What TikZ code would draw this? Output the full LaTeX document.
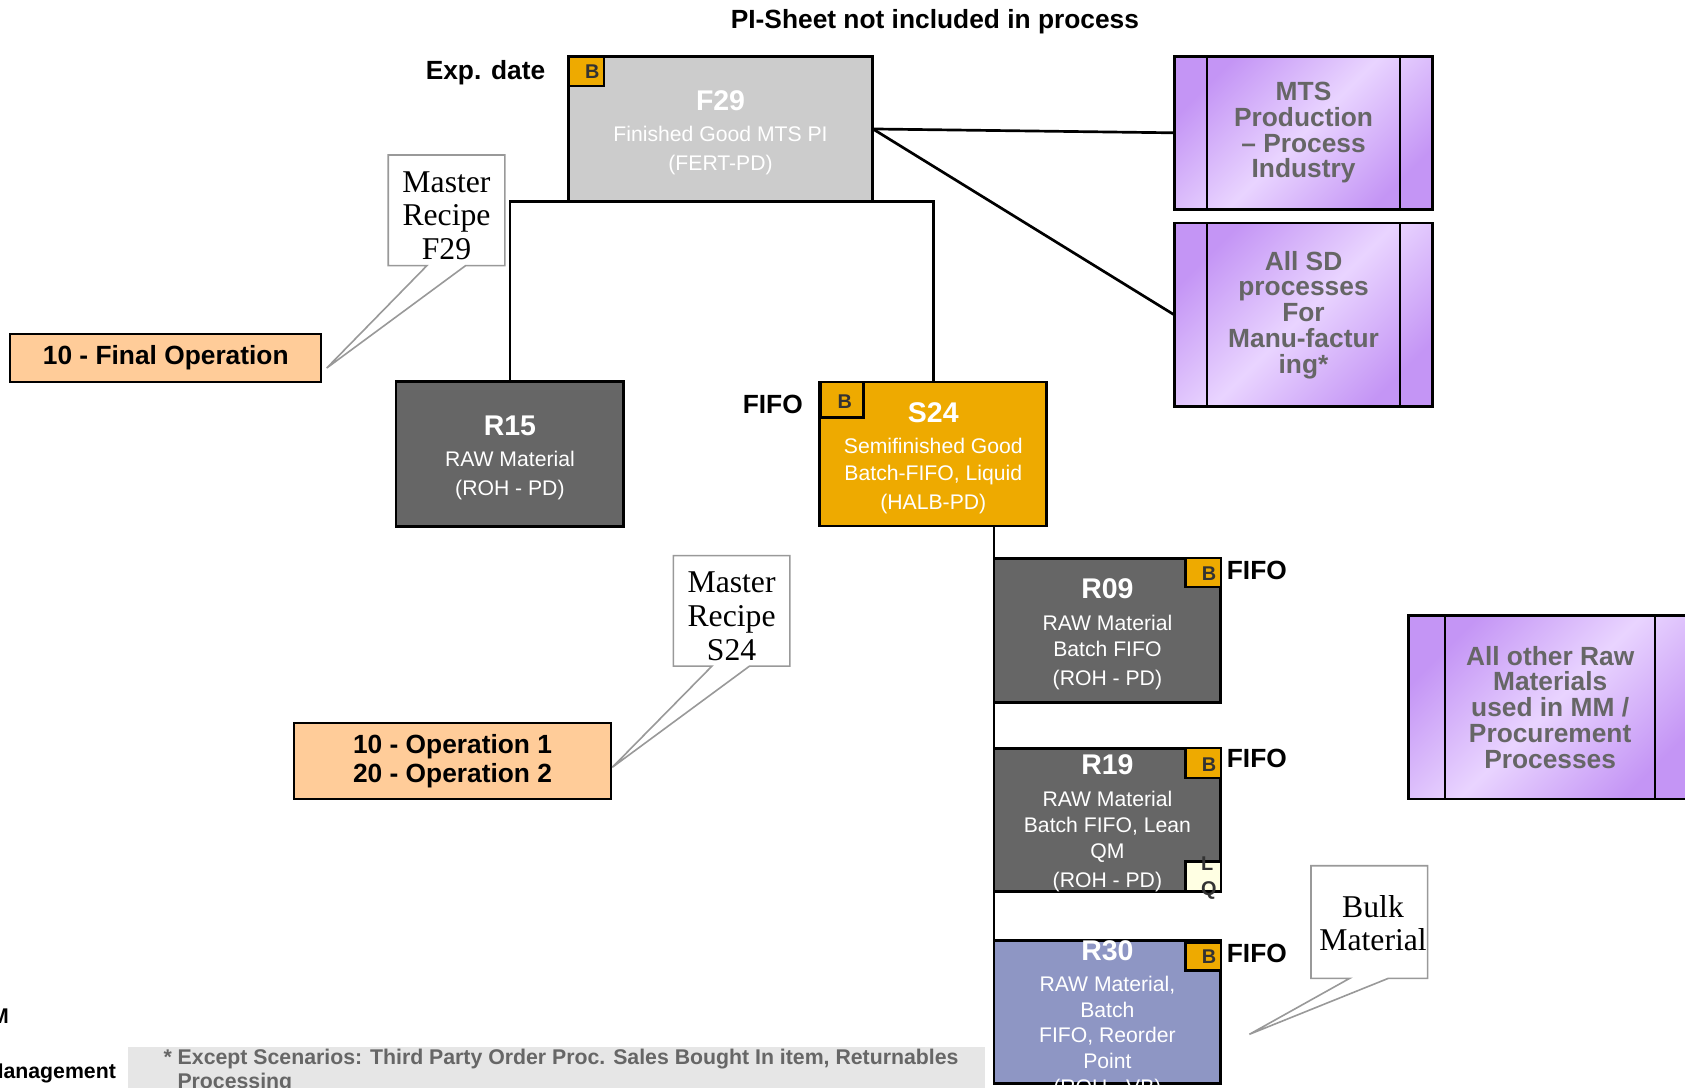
\documentclass[tikz,border=0pt]{standalone}
\usepackage{fontspec}
\setmainfont{Liberation Sans}
\newfontfamily\recipefont{Liberation Serif}
\usetikzlibrary{calc}
\newcommand\myfs[2]{\fontsize{#1}{#2}\selectfont}
\definecolor{darkbox}{HTML}{666666}
\definecolor{lightbox}{HTML}{CCCCCC}
\definecolor{amber}{HTML}{EEAA00}
\definecolor{peach}{HTML}{FFCC99}
\definecolor{periwinkle}{HTML}{8E96C4}
\definecolor{ivory}{HTML}{FFFFE3}
\definecolor{pdark}{HTML}{C495F5}
\definecolor{plight}{HTML}{E9D4FF}
\definecolor{ptext}{HTML}{666666}
\definecolor{btext}{HTML}{333333}
\definecolor{calloutgray}{HTML}{999999}
\definecolor{bandgray}{HTML}{E6E6E6}
\begin{document}
\begin{tikzpicture}[x=1pt,y=-1pt,
  matbox/.style={draw=black, line width=2.7pt, minimum width=211pt, minimum height=134pt, inner sep=0pt, outer sep=0pt},
  mattext/.style={inner sep=0pt, align=center, text=white, font=\myfs{19.7}{24.5}},
  bsq/.style={draw=black, line width=2.2pt, fill=amber, inner sep=0pt, outer sep=0pt, minimum width=33pt, minimum height=27pt},
  btxt/.style={inner sep=0pt, text=btext, font=\bfseries\myfs{18.5}{18.5}},
  lbl/.style={inner sep=0pt, font=\bfseries\myfs{24.5}{24}},
  opbox/.style={draw=black, line width=2.2pt, fill=peach, inner sep=0pt, outer sep=0pt, align=center, font=\bfseries\myfs{24.5}{27}},
  purplebox/.style={draw=black, line width=2.7pt, left color=pdark, right color=pdark, middle color=plight, shading angle=45, inner sep=0pt, outer sep=0pt, align=center, text=ptext, font=\bfseries\myfs{24.5}{24}},
  divider/.style={line width=2.2pt},
  conn/.style={line width=2.5pt},
  callout/.style={draw=calloutgray, line width=1.5pt, line join=miter},
  cbox/.style={inner sep=0pt, outer sep=0pt, minimum width=108.5pt, minimum height=103pt},
  ctext/.style={inner sep=0pt, align=center, font=\recipefont\myfs{29.5}{31.5}},
  fnote/.style={inner sep=0pt, text=ptext, font=\bfseries\myfs{19.8}{21}},
  sidetxt/.style={inner sep=0pt, font=\bfseries\myfs{19.8}{21}},
]
\useasboundingbox (0,0) rectangle (1568,1012);

% headings
\node[lbl, anchor=base] (title) at (870,26.4) {PI-Sheet not included in process};
\node[lbl, anchor=base west] (expdate) at (396,74.4) {Exp. date};

% F29
\node[matbox, fill=lightbox, minimum width=283.5pt, minimum height=134.5pt] (f29) at (670.5,120) {};
\node[mattext] (f29t) at ([yshift=-3.5pt]f29.center) {{\bfseries\myfs{26.5}{24.5}F29}\\[5pt]Finished Good MTS PI\\[2.5pt](FERT-PD)};
\node[bsq] (f29b) at (545.5,66.5) {};
\node[btxt, anchor=base east] (f29bl) at (558,73.5) {B};

% R15
\node[matbox, fill=darkbox, minimum width=212pt, minimum height=135pt] (r15) at (474.5,422.6) {};
\node[mattext] (r15t) at ([yshift=-3.5pt]r15.center) {{\bfseries\myfs{26.5}{24.5}R15}\\[5pt]RAW Material\\[2.5pt](ROH - PD)};

% S24
\node[matbox, fill=amber] (s24) at (868.5,422.5) {};
\node[mattext] (s24t) at ([yshift=-3.5pt]s24.center) {{\bfseries\myfs{26.5}{24.5}S24}\\[5pt]Semifinished Good\\Batch-FIFO, Liquid\\[2.5pt](HALB-PD)};
\node[bsq, minimum width=40pt, minimum height=33pt] (s24b) at (783.5,372) {};
\node[btxt, anchor=base east] (s24bl) at (793,380) {B};
\node[lbl, anchor=base west] (fifos24) at (691,385) {FIFO};

% R09
\node[matbox, fill=darkbox] (r09) at (1030.5,586.5) {};
\node[mattext] (r09t) at ([yshift=-4pt]r09.center) {{\bfseries\myfs{26.5}{24.5}R09}\\[5pt]RAW Material\\Batch FIFO\\[2.5pt](ROH - PD)};
\node[bsq] (r09b) at (1119.5,533) {};
\node[btxt, anchor=base east] (r09bl) at (1132,540) {B};
\node[lbl, anchor=base west] (fifor09) at (1141.5,539.7) {FIFO};

% R19
\node[matbox, fill=darkbox, minimum height=133pt] (r19) at (1030.5,762.8) {};
\node[mattext] (r19t) at ([yshift=-3.5pt]r19.center) {{\bfseries\myfs{26.5}{24.5}R19}\\[5pt]RAW Material\\Batch FIFO, Lean\\QM\\[2.5pt](ROH - PD)};
\node[bsq, minimum height=28pt] (r19b) at (1119.5,710) {};
\node[btxt, anchor=base east] (r19bl) at (1132,717.5) {B};
\node[lbl, anchor=base west] (fifor19) at (1141.5,714.4) {FIFO};
\node[draw=black, line width=2.2pt, fill=ivory, inner sep=0pt, outer sep=0pt, minimum width=33pt, minimum height=28pt] (r19lq) at (1119.5,815.5) {};
\node[btxt, anchor=base west] (r19l) at (1117.5,810) {L};
\node[btxt, anchor=base west] (r19q) at (1117.5,833) {Q};

% R30
\node[matbox, fill=periwinkle, minimum height=132.7pt] (r30) at (1030.5,941.8) {};
\node[mattext, font=\myfs{19.7}{24}] (r30t) at ([yshift=-7pt]r30.center) {{\bfseries\myfs{26.5}{24}R30}\\[5pt]RAW Material,\\Batch\\FIFO, Reorder\\Point\\(ROH - VB)};
\node[bsq, minimum height=26pt] (r30b) at (1119.5,890) {};
\node[btxt, anchor=base east] (r30bl) at (1132,896.5) {B};
\node[lbl, anchor=base west] (fifor30) at (1141.5,895.8) {FIFO};

% purple process boxes
\node[purplebox, minimum width=240.5pt, minimum height=142pt] (mts) at (1213,123.6) {MTS\\Production\\-- Process\\Industry};
\node[purplebox, minimum width=240.5pt, minimum height=171pt] (sd) at (1213,293) {All SD\\processes\\For\\Manu-factur\\ing*};
\node[purplebox, minimum width=263pt, minimum height=170.5pt] (other) at (1442.5,658.25) {All other Raw\\Materials\\used in MM /\\Procurement\\Processes};
\draw[divider] ([xshift=30.5pt]mts.north west) -- ([xshift=30.5pt]mts.south west);
\draw[divider] ([xshift=-30.5pt]mts.north east) -- ([xshift=-30.5pt]mts.south east);
\draw[divider] ([xshift=30.5pt]sd.north west) -- ([xshift=30.5pt]sd.south west);
\draw[divider] ([xshift=-30.5pt]sd.north east) -- ([xshift=-30.5pt]sd.south east);
\draw[divider] ([xshift=33.5pt]other.north west) -- ([xshift=33.5pt]other.south west);
\draw[divider] ([xshift=-34pt]other.north east) -- ([xshift=-34pt]other.south east);

% connectors
\draw[conn] (r15.north) |- (f29.south) -| (s24.north);
\draw[conn] (f29.east) -- (mts.west);
\draw[conn] (f29.east) -- (sd.west);
\draw[conn] (s24.south -| r09.west) -- (r30.north west);

% operations
\node[opbox, minimum width=289.5pt, minimum height=44.7pt] (finalop) at (154.25,333.1) {10 - Final Operation};
\node[opbox, minimum width=295.5pt, minimum height=70.7pt] (ops) at (421.1,707.9) {10 - Operation 1\\20 - Operation 2};

% callouts
\node[cbox] (mrf29) at (415.5,195.7) {};
\coordinate (mrf29tip) at (304,342.5);
\draw[callout] ([xshift=36pt]mrf29.south west) -- (mrf29.south west) -- (mrf29.north west) -- (mrf29.north east) -- (mrf29.south east) -- ([xshift=72pt]mrf29.south west) -- (mrf29tip) -- cycle;
\node[ctext] (mrf29t) at ([yshift=-5pt]mrf29.center) {Master\\Recipe\\F29};

\node[cbox, minimum height=102.8pt] (mrs24) at (680.8,568.4) {};
\coordinate (mrs24tip) at (569.8,714);
\draw[callout] ([xshift=36pt]mrs24.south west) -- (mrs24.south west) -- (mrs24.north west) -- (mrs24.north east) -- (mrs24.south east) -- ([xshift=71pt]mrs24.south west) -- (mrs24tip) -- cycle;
\node[ctext] (mrs24t) at ([yshift=-5pt]mrs24.center) {Master\\Recipe\\S24};

\node[cbox, minimum height=104.8pt] (bulk) at (1274.2,858) {};
\coordinate (bulktip) at (1162.6,962.5);
\draw[callout] ([xshift=36pt]bulk.south west) -- (bulk.south west) -- (bulk.north west) -- (bulk.north east) -- (bulk.south east) -- ([xshift=72pt]bulk.south west) -- (bulktip) -- cycle;
\node[ctext] (bulkt) at ([xshift=3.5pt,yshift=-1pt]bulk.center) {Bulk\\Material};

% footnote band and partial side texts
\node[fill=bandgray, inner sep=0pt, outer sep=0pt, minimum width=797.5pt, minimum height=46pt, anchor=north west] (band) at (119,974) {};
\node[fnote, anchor=base west] (fn1) at (152,991) {* Except Scenarios: Third Party Order Proc. Sales Bought In item, Returnables};
\node[fnote, anchor=base west] (fn2) at (165,1013) {Processing};
\node[sidetxt, anchor=base east] (mgmt) at (108,1004) {Management};
\node[sidetxt, anchor=base east] (mpart) at (8.5,952) {M};
\end{tikzpicture}
\end{document}
